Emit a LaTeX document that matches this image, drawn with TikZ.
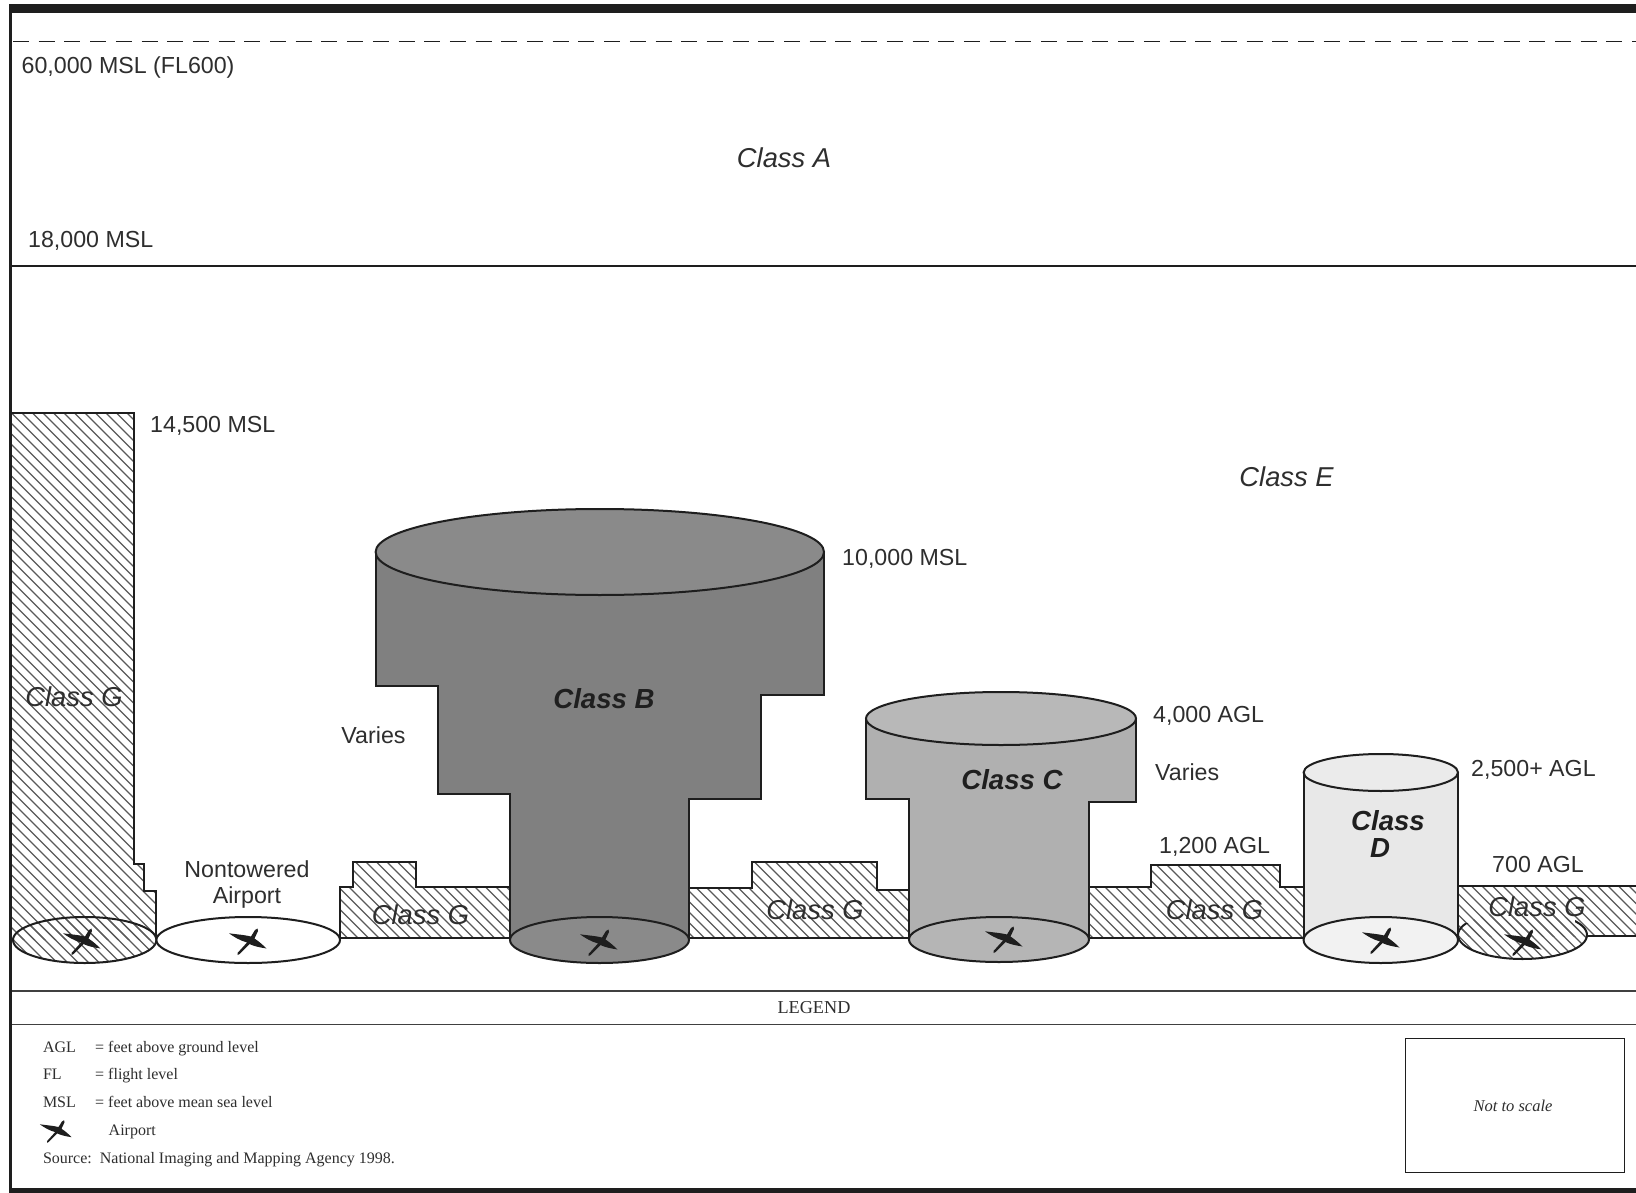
\documentclass[tikz,border=0pt]{standalone}
\usepackage{fontspec}
\setmainfont{Liberation Sans}
\newfontfamily\serifleg{Liberation Serif}
\definecolor{ink}{HTML}{1E1E1E}
\definecolor{txt}{HTML}{2E2E2E}
\definecolor{hatchc}{HTML}{5A5A5A}
\newcommand{\hatchin}[1]{\begin{scope}\clip #1;
  \draw[hatchline] \foreach \i in {-600,-589.5,...,1640} {(\i,400) -- (\i+600,1000)};
\end{scope}}
\tikzset{
  hatchline/.style={draw=hatchc,line width=1.1pt},
  outline/.style={draw=ink,line width=2pt,line join=miter},
  thin rule/.style={draw=ink!85,line width=1.3pt},
  lab/.style={font=\fontsize{23.2}{26}\selectfont,text=txt,inner sep=0pt,anchor=mid west,yshift=-5.5pt},
  labc/.style={font=\fontsize{23.2}{26}\selectfont,text=txt,inner sep=0pt,anchor=mid,yshift=-5.5pt},
  cls/.style={font=\fontsize{27.3}{30}\selectfont\itshape,text=txt,inner sep=0pt,anchor=mid,yshift=-5.5pt},
  clsb/.style={font=\fontsize{27.6}{30}\selectfont\bfseries\itshape,text=black!88,inner sep=0pt,anchor=mid,yshift=-5.5pt},
  leg/.style={font=\serifleg\fontsize{16}{19}\selectfont,text=txt,inner sep=0pt,anchor=mid west,yshift=-3pt},
  airplane/.pic={
    \fill[ink] (-19,-6.7) .. controls (-10,-5.5) and (-3,-5) .. (3,-3.5)
      -- (7,-10) -- (9.5,-11.5) -- (10,-9) -- (6.5,-1.5)
      .. controls (11,1.5) and (15,5) .. (18.5,8.5)
      .. controls (12,7.5) and (5,6) .. (1.5,4)
      -- (-8.5,14) -- (-10.5,15) -- (-10.5,13) -- (-1,2.5)
      .. controls (-8,0.5) and (-14,-3) .. cycle;
  }
}
\begin{document}
\begin{tikzpicture}[x=1pt,y=-1pt]
\useasboundingbox (0,0) rectangle (1636,1193);
\fill[white] (0,0) rectangle (1636,1193);

% frame
\fill[ink] (9.3,4) rectangle (1636,12.7);
\fill[ink] (9.3,4) rectangle (12.3,1193);
\fill[ink] (9.3,1188) rectangle (1636,1193);
\draw[ink,line width=1.8pt,dash pattern=on 16pt off 9.7pt] (13,41.5) -- (1636,41.5);
\draw[outline] (12,265.5) -- (1636,265.5);
\draw[thin rule] (12,991) -- (1636,991);
\draw[thin rule] (12,1024.5) -- (1636,1024.5);

% Class G hatching
\hatchin{(12,413) -- (133.6,413) -- (133.6,864) -- (144,864) -- (144,891) -- (156.4,891) -- (156.4,940) -- (12,940) -- cycle}
\hatchin{(84.7,940) ellipse [x radius=71.7,y radius=23]}
\hatchin{(340,938) -- (340,887) -- (353,887) -- (353,862) -- (416.4,862) -- (416.4,887) -- (510,887) -- (510,938) -- cycle}
\hatchin{(689,938) -- (689,888) -- (752,888) -- (752,862) -- (877,862) -- (877,890) -- (909,890) -- (909,938) -- cycle}
\hatchin{(1089,938) -- (1089,887) -- (1151,887) -- (1151,865) -- (1280,865) -- (1280,887) -- (1303.5,887) -- (1303.5,938) -- cycle}
\hatchin{(1458,936) -- (1458,886) -- (1636,886) -- (1636,936) -- cycle}
\hatchin{(1522.5,935) ellipse [x radius=64.5,y radius=24]}

\draw[outline] (12,413) -- (133.6,413) -- (133.6,864) -- (144,864) -- (144,891) -- (156.4,891) -- (156.4,938);
\draw[outline] (340,938) -- (340,887) -- (353,887) -- (353,862) -- (416.4,862) -- (416.4,887) -- (510,887);
\draw[outline] (340,938) -- (510,938);
\draw[outline] (689,938) -- (909,938);
\draw[outline] (689,888) -- (752,888) -- (752,862) -- (877,862) -- (877,890) -- (909,890);
\draw[outline] (1089,938) -- (1303.5,938);
\draw[outline] (1089,887) -- (1151,887) -- (1151,865) -- (1280,865) -- (1280,887) -- (1303.5,887);
\draw[outline] (1458,886) -- (1636,886);
\draw[outline] (1587,936) -- (1636,936);

% ground ellipses of class G / nontowered
\draw[outline] (84.7,940) ellipse [x radius=71.7,y radius=23];
\draw[outline,fill=white] (248.2,940) ellipse [x radius=91.8,y radius=23];

% Class B
\draw[outline,fill=black!50] (375.6,552) -- (375.6,685.5) -- (438,685.5) -- (438,794) -- (510,794) -- (510,940)
  -- (689,940) -- (689,799) -- (760.6,799) -- (760.6,695) -- (824,695) -- (824,552) -- cycle;
\draw[outline,fill=black!46] (599.8,552) ellipse [x radius=224.2,y radius=43];
\draw[outline,fill=black!46] (599.5,940) ellipse [x radius=89.5,y radius=23];

% Class C
\draw[outline,fill=black!31] (866,718.5) -- (866,799) -- (909,799) -- (909,940) -- (1089,940)
  -- (1089,802) -- (1136,802) -- (1136,718.5) -- cycle;
\draw[outline,fill=black!28] (1001,718.5) ellipse [x radius=135,y radius=26.5];
\draw[outline,fill=black!29] (999,939.5) ellipse [x radius=90,y radius=22.5];

% Class D
\draw[outline,fill=black!9] (1303.5,772.5) -- (1303.5,940) -- (1458,940) -- (1458,772.5) -- cycle;
\draw[outline,fill=black!8] (1380.8,772.5) ellipse [x radius=77.2,y radius=18.5];
\draw[outline,fill=black!5] (1380.8,940) ellipse [x radius=77.2,y radius=23];

% Last airport ellipse, open at the top
\begin{scope}
\clip (1450,923) rectangle (1476,970) (1575,915) rectangle (1595,970) (1450,935) rectangle (1595,970);
\draw[outline] (1522.5,935) ellipse [x radius=64.5,y radius=24];
\end{scope}

% Airplanes
\pic at (82,940) {airplane};
\pic at (248,940) {airplane};
\pic at (599,941) {airplane};
\pic at (1004,938) {airplane};
\pic at (1381,939) {airplane};
\pic at (1523,941) {airplane};
\pic[scale=0.85] at (56,1130) {airplane};

% Labels
\node[lab] (fl600) at (21.5,65) {60,000 MSL (FL600)};
\node[lab] (msl18) at (28,239) {18,000 MSL};
\node[cls] (classA) at (784,159) {Class A};
\node[cls] (classE) at (1286.5,478) {Class E};
\node[lab] (msl14) at (150,424.5) {14,500 MSL};
\node[lab] (msl10) at (842,557) {10,000 MSL};
\node[labc] (variesB) at (373.5,735.5) {Varies};
\node[clsb] (classB) at (604,700) {Class B};
\node[lab] (agl4) at (1153,714.5) {4,000 AGL};
\node[lab] (variesC) at (1155,772) {Varies};
\node[clsb] (classC) at (1012,781.5) {Class C};
\node[lab] (agl25) at (1471,768) {2,500+ AGL};
\node[clsb] (classD1) at (1388,822) {Class};
\node[clsb] (classD2) at (1380,849) {D};
\node[lab] (agl12) at (1159,845) {1,200 AGL};
\node[lab] (agl7) at (1492,864) {700 AGL};
\node[cls] (g1) at (74,698) {Class G};
\node[cls] (g2) at (420.5,916) {Class G};
\node[cls] (g3) at (815,911) {Class G};
\node[cls] (g4) at (1214.5,911) {Class G};
\node[cls] (g5) at (1537,908) {Class G};
\node[labc] (nt1) at (247,869) {Nontowered};
\node[labc] (nt2) at (247,895) {Airport};

% Legend
\node[leg,anchor=mid,font=\serifleg\fontsize{18.2}{20}\selectfont] (legend) at (814,1008) {LEGEND};
\node[leg] (l1a) at (42.8,1046.5) {AGL};
\node[leg] (l1b) at (95,1046.5) {= feet above ground level};
\node[leg] (l2a) at (42.8,1074) {FL};
\node[leg] (l2b) at (95,1074) {= flight level};
\node[leg] (l3a) at (42.8,1101.5) {MSL};
\node[leg] (l3b) at (95,1101.5) {= feet above mean sea level};
\node[leg] (l4) at (108.5,1129.5) {Airport};
\node[leg] (src) at (42.8,1157.5) {Source:\ \ National Imaging and Mapping Agency 1998.};
\node[draw=ink,line width=1.3pt,minimum width=219pt,minimum height=134pt,inner sep=0pt,anchor=north west] (scalebox) at (1404.5,1038) {};
\node[leg,anchor=mid,font=\serifleg\fontsize{16.5}{19}\selectfont\itshape] (scale) at (1513,1105.5) {Not to scale};
\end{tikzpicture}
\end{document}
